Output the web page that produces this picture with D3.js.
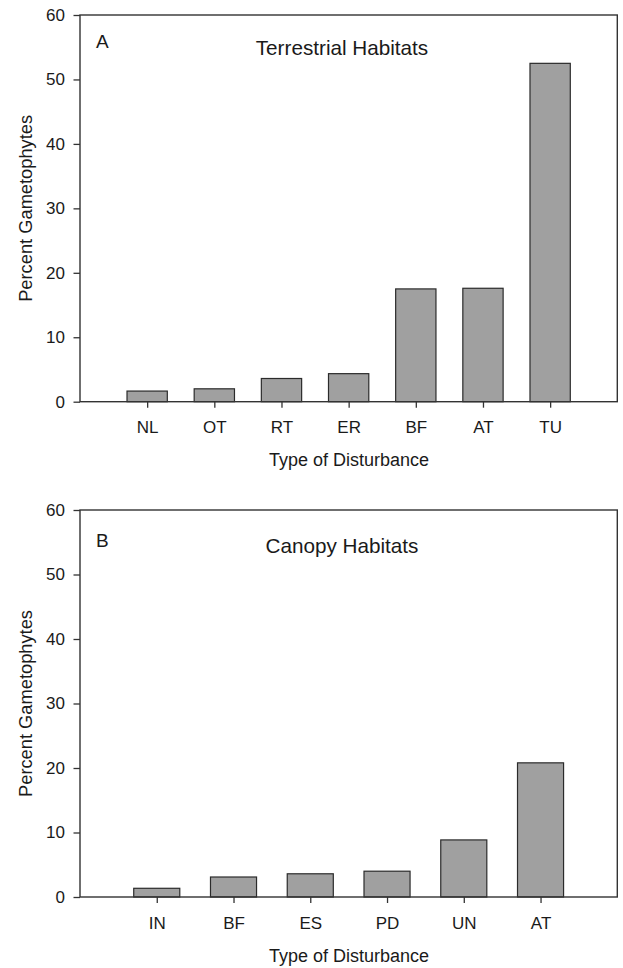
<!DOCTYPE html>
<html>
<head>
<meta charset="utf-8">
<script src="https://cdn.jsdelivr.net/npm/d3@7"></script>
<style>
  body { margin: 0; background: #fff; }
  text { font-family: "Liberation Sans", Arial, sans-serif; fill: #1a1a1a; }
</style>
</head>
<body>
<div id="chart"></div>
<script>
const width = 623
const height = 968

// data
const terrCategories = ["NL", "OT", "RT", "ER", "BF", "AT", "TU"]
const terrValues = [1.65, 2.0, 3.6, 4.35, 17.5, 17.6, 52.5]
const canopyCategories = ["IN", "BF", "ES", "PD", "UN", "AT"]
const canopyValues = [1.35, 3.1, 3.6, 4.0, 8.85, 20.8]
const yTicks = [0, 10, 20, 30, 40, 50, 60]
const yLabel = "Percent Gametophytes"
const xLabel = "Type of Disturbance"

const panels = [
  {letter: "A", title: "Terrestrial Habitats", cats: terrCategories, values: terrValues,
   top: 15, bottom: 401.7, letterDy: 33, titleDy: 39.5},
  {letter: "B", title: "Canopy Habitats", cats: canopyCategories, values: canopyValues,
   top: 510, bottom: 897, letterDy: 37, titleDy: 43.3}
]

const left = 80, right = 617.3
const axisColor = "#333"

const svg = d3.select("#chart").append("svg")
    .attr("width", width)
    .attr("height", height)
    .attr("viewBox", [0, 0, width, height])

panels.forEach(p => {
  const data = p.cats.map((c, i) => ({cat: c, value: p.values[i]}))

  const x = d3.scalePoint()
      .domain(p.cats)
      .range([left, right])
      .padding(1)

  const y = d3.scaleLinear()
      .domain([0, 60])
      .range([p.bottom, p.top])

  const barW = x.step() * 0.6
  const g = svg.append("g")

  // bars
  g.selectAll("rect.bar")
    .data(data)
    .join("rect")
      .attr("class", "bar")
      .attr("x", d => x(d.cat) - barW / 2)
      .attr("y", d => y(d.value))
      .attr("width", barW)
      .attr("height", d => y(0) - y(d.value))
      .attr("fill", "#a0a0a0")
      .attr("stroke", "#2b2b2b")
      .attr("stroke-width", 1.2)

  // frame
  g.append("rect")
      .attr("x", left)
      .attr("y", p.top)
      .attr("width", right - left)
      .attr("height", p.bottom - p.top)
      .attr("fill", "none")
      .attr("stroke", axisColor)
      .attr("stroke-width", 1.4)

  g.append("g")
      .attr("transform", `translate(${left},0)`)
      .call(d3.axisLeft(y).tickValues(yTicks).tickSize(6.5).tickPadding(8.5))
      .call(a => a.select(".domain").remove())
      .call(a => a.selectAll("line").attr("stroke", axisColor).attr("stroke-width", 1.3))
      .call(a => a.selectAll("text").attr("font-size", 17).attr("fill", "#1a1a1a")
        .attr("font-family", "Liberation Sans, Arial, sans-serif"))

  g.append("g")
      .attr("transform", `translate(0,${p.bottom})`)
      .call(d3.axisBottom(x).tickSize(6).tickPadding(13.5))
      .call(a => a.select(".domain").remove())
      .call(a => a.selectAll("line").attr("stroke", axisColor).attr("stroke-width", 1.3))
      .call(a => a.selectAll("text").attr("font-size", 17).attr("fill", "#1a1a1a")
        .attr("font-family", "Liberation Sans, Arial, sans-serif"))

  // panel letter and title
  g.append("text")
      .attr("x", 96)
      .attr("y", p.top + p.letterDy)
      .attr("font-size", 19)
      .text(p.letter)

  g.append("text")
      .attr("x", 342)
      .attr("y", p.top + p.titleDy)
      .attr("text-anchor", "middle")
      .attr("font-size", 20.7)
      .text(p.title)

  // axis labels
  g.append("text")
      .attr("x", 349)
      .attr("y", p.bottom + 64.5)
      .attr("text-anchor", "middle")
      .attr("font-size", 18)
      .text(xLabel)

  g.append("text")
      .attr("transform", `translate(31.5,${(p.top + p.bottom) / 2}) rotate(-90)`)
      .attr("text-anchor", "middle")
      .attr("font-size", 18.3)
      .text(yLabel)
})
</script>
</body>
</html>
